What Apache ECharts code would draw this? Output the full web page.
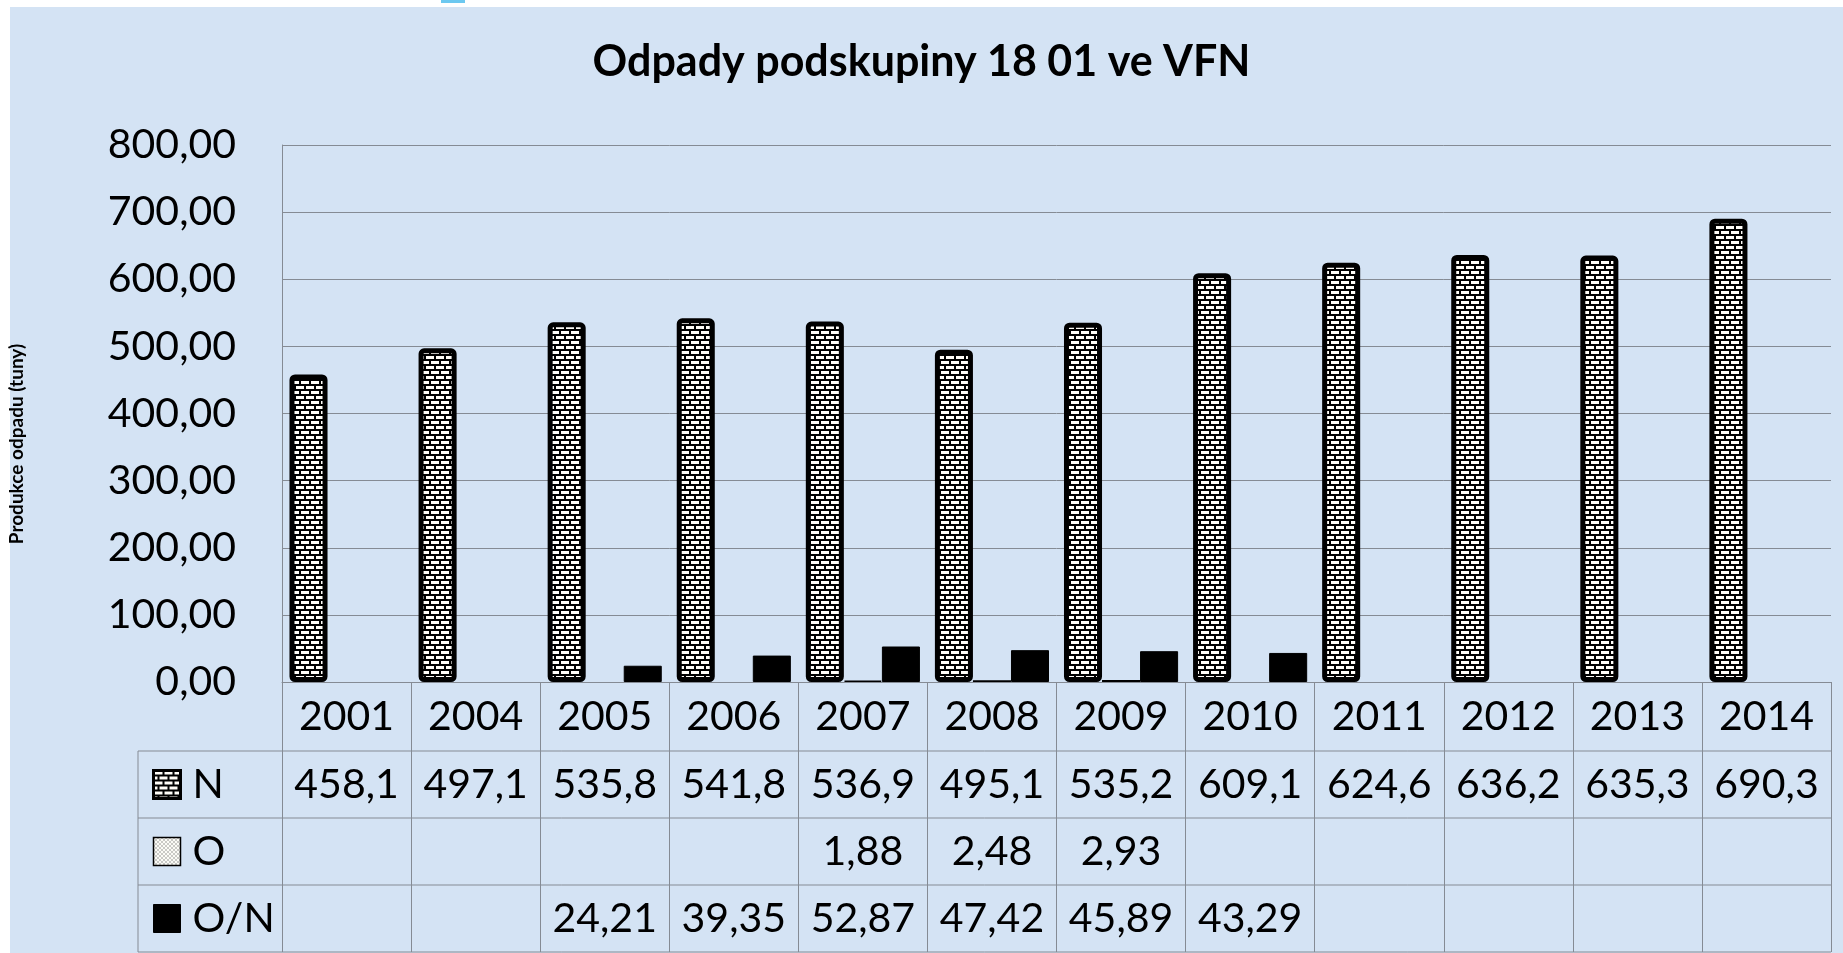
<!DOCTYPE html>
<html lang="cs">
<head>
    <meta charset="UTF-8">
    <title>Odpady podskupiny 18 01 ve VFN</title>
    <style>
        html, body {
            margin: 0;
            padding: 0;
            background: #ffffff;
        }
        #chart {
            width: 1843px;
            height: 953px;
        }
    </style>
    <script src="https://cdn.jsdelivr.net/npm/echarts@6/dist/echarts.min.js"></script>
</head>
<body>
    <div id="chart"></div>
    <script>
        // data
        const years = ['2001', '2004', '2005', '2006', '2007', '2008', '2009', '2010', '2011', '2012', '2013', '2014'];
        const valuesN = [458.1, 497.1, 535.8, 541.8, 536.9, 495.1, 535.2, 609.1, 624.6, 636.2, 635.3, 690.3];
        const valuesO = [null, null, null, null, 1.88, 2.48, 2.93, null, null, null, null, null];
        const valuesON = [null, null, 24.21, 39.35, 52.87, 47.42, 45.89, 43.29, null, null, null, null];
        const yTicks = { min: 0, max: 800, step: 100 };

        // layout
        const plotLeft = 282;
        const plotRight = 1831;
        const plotTop = 145;
        const plotBottom = 682;
        const rowLines = [751, 818, 885, 952];   // spodní hrany řádků tabulky
        const tableLeft = 138;
        const gridColor = '#858b94';
        const font = 'Lato, "Open Sans", sans-serif';

        // cihlová výplň
        function brickPattern() {
            const c = document.createElement('canvas');
            c.width = 10;
            c.height = 10;
            const ctx = c.getContext('2d');
            ctx.fillStyle = '#000';
            ctx.fillRect(0, 0, 10, 10);
            ctx.fillStyle = '#fffdf8';
            ctx.fillRect(1, 1, 8, 3);
            ctx.fillRect(6, 6, 4, 3);
            ctx.fillRect(0, 6, 4, 3);
            return c;
        }

        // tečkovaná výplň
        function dotPattern() {
            const c = document.createElement('canvas');
            c.width = 4;
            c.height = 4;
            const ctx = c.getContext('2d');
            ctx.fillStyle = '#fbfbf6';
            ctx.fillRect(0, 0, 4, 4);
            ctx.fillStyle = '#333';
            ctx.fillRect(0, 0, 1, 1);
            ctx.fillRect(2, 2, 1, 1);
            return c;
        }

        function fmt(v, digits) {
            if (v === null || v === undefined) return '';
            return v.toFixed(digits).replace('.', ',');
        }

        // řádek datové tabulky jako další osa x
        function tableRowAxis(offset, values, digits) {
            return {
                type: 'category',
                gridIndex: 0,
                position: 'bottom',
                offset: offset,
                data: years,
                axisLine: { show: false },
                axisTick: { show: false },
                splitLine: { show: false },
                axisLabel: {
                    interval: 0,
                    margin: 13,
                    color: '#000',
                    fontFamily: font,
                    fontSize: 41,
                    lineHeight: 41,
                    formatter: (val, idx) => fmt(values[idx], digits)
                }
            };
        }

        const bricks = { image: brickPattern(), repeat: 'repeat' };
        const dots = { image: dotPattern(), repeat: 'repeat' };

        const chart = echarts.init(document.getElementById('chart'));

        const tableLines = rowLines.map(y => ({
            type: 'line',
            shape: { x1: tableLeft, y1: y, x2: plotRight, y2: y },
            style: { stroke: gridColor, lineWidth: 1 },
            silent: true
        }));
        tableLines.push({
            type: 'line',
            shape: { x1: tableLeft, y1: rowLines[0], x2: tableLeft, y2: rowLines[3] },
            style: { stroke: gridColor, lineWidth: 1 },
            silent: true
        });

        chart.setOption({
            backgroundColor: '#d4e3f4',
            animation: false,
            title: {
                text: 'Odpady podskupiny 18 01 ve VFN',
                left: 'center',
                top: 36,
                textStyle: {
                    fontFamily: font,
                    fontWeight: 'bold',
                    fontSize: 43,
                    lineHeight: 43,
                    color: '#000'
                }
            },
            legend: {
                orient: 'vertical',
                left: 152,
                top: 764,
                padding: 0,
                itemGap: 26,
                itemWidth: 27,
                itemHeight: 28,
                icon: 'rect',
                data: [
                    { name: 'N', itemStyle: { color: bricks, borderColor: '#000', borderWidth: 3 } },
                    { name: 'O', itemStyle: { color: dots, borderColor: '#000', borderWidth: 1.5 } },
                    { name: 'O/N', itemStyle: { color: '#000', borderColor: '#000', borderWidth: 1 } }
                ],
                textStyle: {
                    fontFamily: font,
                    fontSize: 41,
                    lineHeight: 41,
                    color: '#000',
                    padding: [0, 0, 0, 7]
                }
            },
            graphic: [
                { type: 'rect', shape: { x: 0, y: 0, width: 1843, height: 7 }, style: { fill: '#ffffff' }, silent: true },
                { type: 'rect', shape: { x: 0, y: 0, width: 10, height: 953 }, style: { fill: '#ffffff' }, silent: true },
                { type: 'rect', shape: { x: 441, y: 0, width: 24, height: 3 }, style: { fill: '#6cc8f0' }, silent: true },
                {
                    type: 'text',
                    x: 17,
                    y: 444,
                    rotation: Math.PI / 2,
                    style: {
                        text: 'Produkce odpadu (tuny)',
                        fontFamily: font,
                        fontWeight: 'bold',
                        fontSize: 19,
                        fill: '#000',
                        align: 'center',
                        verticalAlign: 'middle'
                    },
                    silent: true
                }
            ].concat(tableLines),
            grid: {
                left: plotLeft,
                right: 1843 - plotRight,
                top: plotTop,
                bottom: 953 - plotBottom,
                containLabel: false
            },
            xAxis: [
                {
                    type: 'category',
                    data: years,
                    axisLine: { show: true, lineStyle: { color: gridColor, width: 1 } },
                    axisTick: {
                        show: true,
                        interval: 0,
                        length: rowLines[3] - plotBottom,
                        lineStyle: { color: gridColor, width: 1 }
                    },
                    axisLabel: {
                        interval: 0,
                        margin: 14,
                        color: '#000',
                        fontFamily: font,
                        fontSize: 41,
                        lineHeight: 41
                    }
                },
                tableRowAxis(rowLines[0] - plotBottom, valuesN, 1),
                tableRowAxis(rowLines[1] - plotBottom, valuesO, 2),
                tableRowAxis(rowLines[2] - plotBottom, valuesON, 2)
            ],
            yAxis: {
                type: 'value',
                min: yTicks.min,
                max: yTicks.max,
                interval: yTicks.step,
                axisLine: { show: true, lineStyle: { color: gridColor, width: 1 } },
                axisTick: { show: false },
                splitLine: { lineStyle: { color: gridColor, width: 1 } },
                axisLabel: {
                    margin: 46,
                    color: '#000',
                    fontFamily: font,
                    fontSize: 41,
                    formatter: v => fmt(v, 2)
                }
            },
            series: [
                {
                    name: 'N',
                    type: 'bar',
                    data: valuesN,
                    barGap: '0%',
                    barCategoryGap: '11.6%',
                    itemStyle: {
                        color: bricks,
                        borderColor: '#000',
                        borderWidth: 5,
                        borderRadius: 3
                    }
                },
                {
                    name: 'O',
                    type: 'bar',
                    data: valuesO,
                    itemStyle: {
                        color: dots,
                        borderColor: '#000',
                        borderWidth: 1.5
                    }
                },
                {
                    name: 'O/N',
                    type: 'bar',
                    data: valuesON,
                    itemStyle: {
                        color: '#000',
                        borderColor: '#000',
                        borderWidth: 1
                    }
                }
            ]
        });
    </script>
</body>
</html>
